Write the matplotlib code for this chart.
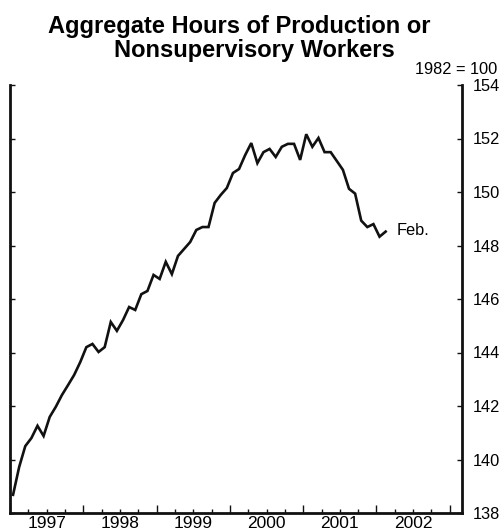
import matplotlib
matplotlib.use("Agg")
import matplotlib.pyplot as plt
import numpy as np

# Monthly values, Jan 1997 - Feb 2002 (index, 1982 = 100)
values = [
    138.68, 139.72, 140.50, 140.80, 141.26, 140.88, 141.59, 141.97, 142.41, 142.78, 143.16, 143.64,  # 1997
    144.20, 144.32, 144.02, 144.20, 145.14, 144.81, 145.21, 145.70, 145.59, 146.18, 146.30, 146.90,  # 1998
    146.75, 147.39, 146.93, 147.61, 147.87, 148.13, 148.58, 148.69, 148.69, 149.59, 149.89, 150.15,  # 1999
    150.71, 150.86, 151.38, 151.83, 151.08, 151.49, 151.61, 151.31, 151.69, 151.80, 151.80, 151.20,  # 2000
    152.16, 151.69, 152.02, 151.49, 151.49, 151.16, 150.83, 150.12, 149.94, 148.93, 148.69, 148.80,  # 2001
    148.33, 148.52,  # 2002
]
years = ["1997", "1998", "1999", "2000", "2001", "2002"]
y_ticks = [138, 140, 142, 144, 146, 148, 150, 152, 154]
title_line1 = "Aggregate Hours of Production or"
title_line2 = "Nonsupervisory Workers"
unit_label = "1982 = 100"
end_label = "Feb."

plt.rcParams['font.family'] = ['Liberation Sans', 'DejaVu Sans']

fig = plt.figure(figsize=(5.03, 5.31), dpi=100)
W, H = 503, 531
ax = fig.add_axes([10 / W, 18 / H, (462 - 10) / W, (513 - 85) / H])

x = np.arange(len(values)) + 0.5  # months since Jan 1997, mid-month
ax.plot(x, values, color='#111111', lw=1.9, solid_joinstyle='miter')

ax.set_xlim(0, 74)
ax.set_ylim(138, 154)

for s in ['left', 'right', 'bottom']:
    ax.spines[s].set_linewidth(2.0)
    ax.spines[s].set_color('#111111')
ax.spines['top'].set_visible(False)

# x ticks: years major, quarters minor
ax.set_xticks(np.arange(0, 74, 12))
ax.set_xticks([m for m in range(3, 74, 3) if m % 12 != 0], minor=True)
ax.tick_params(axis='x', which='major', direction='in', length=6.0, width=1.0,
               labelbottom=False, color='#111111')
ax.tick_params(axis='x', which='minor', direction='in', length=2.8, width=1.0,
               color='#111111')

sec = ax.secondary_xaxis('bottom')
sec.set_xticks([6 + 12 * i for i in range(len(years))], labels=years)
sec.tick_params(length=0, pad=2.5, labelsize=12.5)
sec.spines['bottom'].set_visible(False)

ax.set_yticks(y_ticks)
ax.tick_params(axis='y', which='major', direction='in', length=3.5, width=1.0,
               left=True, right=True, labelleft=False, labelright=True,
               labelsize=11.8, pad=8, color='#111111')

ax.annotate(end_label, xy=(x[-1], values[-1]), xytext=(8, 1), textcoords='offset points',
            ha='left', va='center', fontsize=11.8)

fig.text(239 / W, 1 - 27 / H, title_line1, ha='center', va='center', fontsize=17,
         fontweight='bold')
fig.text(254 / W, 1 - 50 / H, title_line2, ha='center', va='center', fontsize=17,
         fontweight='bold')
fig.text(497 / W, 1 - 69 / H, unit_label, ha='right', va='center', fontsize=11.8)

fig.savefig('out.png', dpi=100)
